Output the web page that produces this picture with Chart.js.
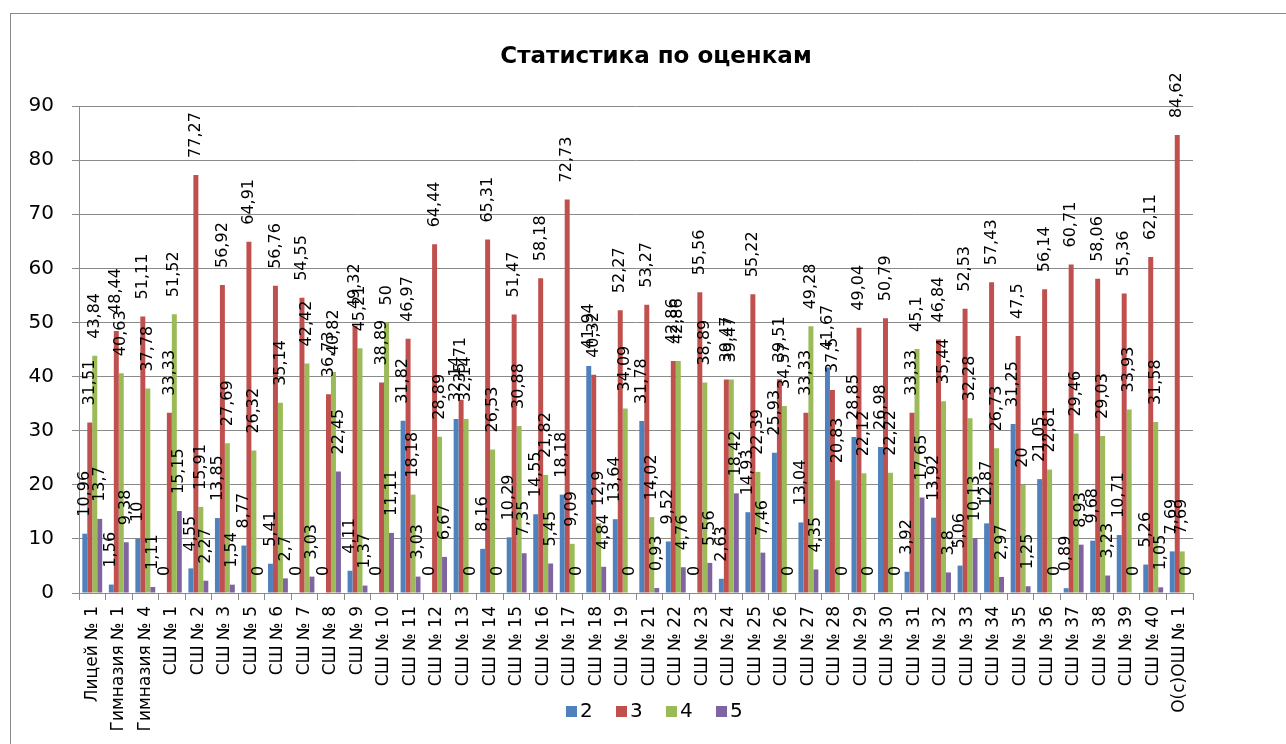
<!DOCTYPE html>
<html>
<head>
<meta charset="utf-8">
<script src="https://cdn.jsdelivr.net/npm/chart.js@4.4.1/dist/chart.umd.min.js"></script>
<style>
  html, body { margin: 0; padding: 0; background: #fff; }
  #wrap { width: 1286px; height: 744px; position: relative; }
</style>
</head>
<body>
<div id="wrap"><canvas id="c" width="1286" height="744"></canvas></div>
<script>
const title = 'Статистика по оценкам';
const categories = ['Лицей № 1','Гимназия № 1','Гимназия № 4','СШ № 1','СШ № 2','СШ № 3','СШ № 5','СШ № 6','СШ № 7','СШ № 8','СШ № 9','СШ № 10','СШ № 11','СШ № 12','СШ № 13','СШ № 14','СШ № 15','СШ № 16','СШ № 17','СШ № 18','СШ № 19','СШ № 21','СШ № 22','СШ № 23','СШ № 24','СШ № 25','СШ № 26','СШ № 27','СШ № 28','СШ № 29','СШ № 30','СШ № 31','СШ № 32','СШ № 33','СШ № 34','СШ № 35','СШ № 36','СШ № 37','СШ № 38','СШ № 39','СШ № 40','О(с)ОШ № 1'];
const seriesNames = ['2','3','4','5'];
const grade2 = [10.96,1.56,10,0,4.55,13.85,8.77,5.41,0,0,4.11,0,31.82,0,32.14,8.16,10.29,14.55,18.18,41.94,13.64,31.78,9.52,0,2.63,14.93,25.93,13.04,41.67,28.85,26.98,3.92,13.92,5.06,12.87,31.25,21.05,0.89,9.68,10.71,5.26,7.69];
const grade3 = [31.51,48.44,51.11,33.33,77.27,56.92,64.91,56.76,54.55,36.73,49.32,38.89,46.97,64.44,35.71,65.31,51.47,58.18,72.73,40.32,52.27,53.27,42.86,55.56,39.47,55.22,39.51,33.33,37.5,49.04,50.79,33.33,46.84,52.53,57.43,47.5,56.14,60.71,58.06,55.36,62.11,84.62];
const grade4 = [43.84,40.63,37.78,51.52,15.91,27.69,26.32,35.14,42.42,40.82,45.21,50,18.18,28.89,32.14,26.53,30.88,21.82,9.09,12.9,34.09,14.02,42.86,38.89,39.47,22.39,34.57,49.28,20.83,22.12,22.22,45.1,35.44,32.28,26.73,20,22.81,29.46,29.03,33.93,31.58,7.69];
const grade5 = [13.7,9.38,1.11,15.15,2.27,1.54,0,2.7,3.03,22.45,1.37,11.11,3.03,6.67,0,0,7.35,5.45,0,4.84,0,0.93,4.76,5.56,18.42,7.46,0,4.35,0,0,0,17.65,3.8,10.13,2.97,1.25,0,8.93,3.23,0,1.05,0];
const yTicks = [0,10,20,30,40,50,60,70,80,90];
const colors = ['#4F81BD','#C0504D','#9BBB59','#8064A2'];

const FONT = 'DejaVu Sans';
Chart.defaults.font.family = FONT;
Chart.defaults.color = '#000';

const fmt = v => String(v).replace('.', ',');

const deco = {
  id: 'deco',
  beforeDraw(chart) {
    const ctx = chart.ctx;
    ctx.save();
    ctx.fillStyle = '#fff';
    ctx.fillRect(0, 0, chart.width, chart.height);
    ctx.strokeStyle = '#8a8a8a';
    ctx.lineWidth = 1;
    ctx.strokeRect(10.5, 13.5, 1300, 760);
    ctx.restore();
  },
  afterDatasetsDraw(chart) {
    const ctx = chart.ctx;
    ctx.save();
    ctx.font = '16px ' + FONT;
    ctx.fillStyle = '#000';
    ctx.textAlign = 'left';
    ctx.textBaseline = 'middle';
    chart.data.datasets.forEach((ds, di) => {
      const meta = chart.getDatasetMeta(di);
      meta.data.forEach((el, i) => {
        ctx.save();
        ctx.translate(el.x, el.y - 17);
        ctx.rotate(-Math.PI / 2);
        ctx.fillText(fmt(ds.data[i]), 0, 0);
        ctx.restore();
      });
    });
    ctx.restore();
  },
  afterDraw(chart) {
    const ctx = chart.ctx;
    ctx.save();
    ctx.fillStyle = '#000';
    ctx.font = 'bold 23px "DejaVu Sans"';
    ctx.textAlign = 'center';
    ctx.textBaseline = 'middle';
    ctx.fillText(title, 656, 57);
    // legend
    ctx.font = '20px ' + FONT;
    ctx.textAlign = 'left';
    const lx = [566, 616, 666, 716];
    seriesNames.forEach((n, i) => {
      ctx.fillStyle = colors[i];
      ctx.fillRect(lx[i], 706, 11, 11);
      ctx.fillStyle = '#000';
      ctx.fillText(n, lx[i] + 14, 712);
    });
    ctx.restore();
  }
};

const datasets = [grade2, grade3, grade4, grade5].map((d, i) => ({
  label: seriesNames[i],
  data: d,
  backgroundColor: colors[i],
  borderWidth: 0,
  categoryPercentage: 0.75,
  barPercentage: 1.0
}));

new Chart(document.getElementById('c'), {
  type: 'bar',
  data: { labels: categories, datasets },
  options: {
    responsive: false,
    animation: false,
    layout: { padding: { top: 106, right: 93, bottom: 0, left: 0 } },
    plugins: { legend: { display: false }, title: { display: false }, tooltip: { enabled: false } },
    scales: {
      x: {
        afterFit(s) { s.height = 151; },
        grid: { display: true, offset: true, drawOnChartArea: false, drawTicks: true, tickLength: 7, color: '#8a8a8a', lineWidth: 1 },
        border: { display: true, color: '#8a8a8a', width: 1 },
        ticks: { autoSkip: false, maxRotation: 90, minRotation: 90, padding: 6, font: { size: 17 }, color: '#000' }
      },
      y: {
        min: 0, max: 90,
        afterFit(s) { s.width = 79; },
        afterBuildTicks(s) { s.ticks = yTicks.map(v => ({ value: v })); },
        grid: { color: '#8a8a8a', lineWidth: 1, tickLength: 7, drawTicks: true },
        border: { display: true, color: '#8a8a8a', width: 1 },
        ticks: { padding: 18, font: { size: 20 }, color: '#000' }
      }
    }
  },
  plugins: [deco]
});
</script>
</body>
</html>
